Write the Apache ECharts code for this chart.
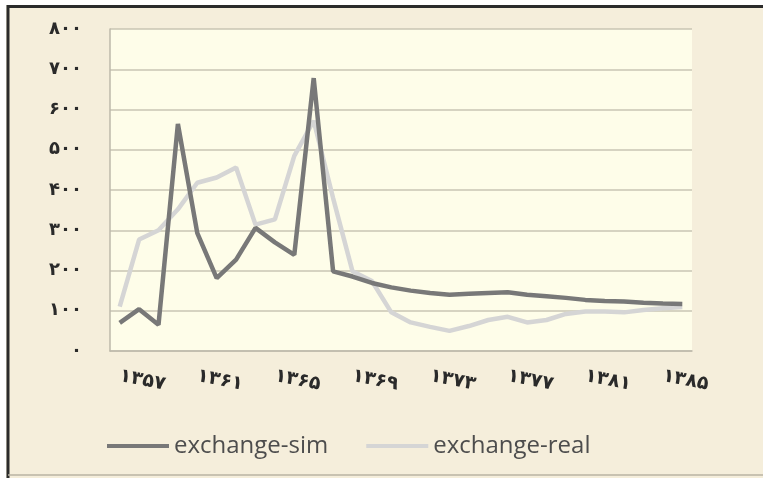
<!DOCTYPE html>
<html>
<head>
<meta charset="utf-8">
<script src="https://cdn.jsdelivr.net/npm/echarts@6/dist/echarts.min.js"></script>
<style>
html,body{margin:0;padding:0;background:#ffffff;}
#c{width:763px;height:478px;}
</style>
</head>
<body>
<div id="c"></div>
<script>
var years = [1357,1358,1359,1360,1361,1362,1363,1364,1365,1366,1367,1368,1369,1370,1371,1372,1373,1374,1375,1376,1377,1378,1379,1380,1381,1382,1383,1384,1385,1386];
var exchangeSim = [70,104,65,564,293,181,227,306,270,239,678,198,185,169,158,150,144,140,142,144,146,140,136,132,127,124,123,120,118,117];
var exchangeReal = [110,277,300,352,418,431,456,314,327,485,572,380,198,174,96,71,60,50,62,77,85,71,77,92,98,98,96,102,106,109];
var yTicks = {min:0, max:800, interval:100};

var pDigits = ['۰','۱','۲','۳','۴','۵','۶','۷','۸','۹'];
function toFa(v){ return String(v).replace(/[0-9]/g, function(d){ return pDigits[+d]; }); }

var chart = echarts.init(document.getElementById('c'), null, {renderer:'canvas'});
chart.setOption({
  backgroundColor: '#f5eedb',
  animation: false,
  graphic: [
    {type:'rect', z:-10, silent:true, shape:{x:0,y:0,width:763,height:5}, style:{fill:'#ffffff'}},
    {type:'rect', z:-10, silent:true, shape:{x:0,y:0,width:6,height:478}, style:{fill:'#ffffff'}},
    {type:'polyline', z:-5, silent:true, shape:{points:[[8,478],[8,6.5],[763,6.5]]}, style:{stroke:'#2b2b2b', lineWidth:3, fill:null}},
    {type:'line', z:-5, silent:true, shape:{x1:8,y1:475,x2:763,y2:475}, style:{stroke:'#b9b3a3', lineWidth:1.5}}
  ],
  grid: {left:110, right:71, top:29, bottom:127, show:true, backgroundColor:'#fefde9', borderWidth:0},
  legend: {
    bottom: 15, left: 102,
    itemWidth: 62, itemHeight: 4, itemGap: 38,
    icon: 'rect',
    textStyle: {fontFamily:'Open Sans', fontSize:24, color:'#4d4d4d'},
    data: ['exchange-sim','exchange-real']
  },
  xAxis: {
    type:'category',
    data: years,
    boundaryGap: true,
    axisLine: {lineStyle:{color:'#bdb9aa', width:1.5}},
    axisTick: {show:false},
    axisLabel: {
      interval: 3,
      rotate: -11,
      margin: 25,
      fontFamily: 'DejaVu Sans',
      fontWeight: 'bold',
      fontSize: 19,
      color: '#2a2a2a',
      formatter: function(v){ return toFa(v); }
    },
    splitLine: {show:false}
  },
  yAxis: {
    type:'value',
    min: yTicks.min, max: yTicks.max, interval: yTicks.interval,
    axisLine: {show:true, lineStyle:{color:'#bdb9aa', width:1.5}},
    axisTick: {show:false},
    axisLabel: {
      margin: 28,
      fontFamily: 'DejaVu Sans',
      fontWeight: 'bold',
      fontSize: 18,
      color: '#2a2a2a',
      formatter: function(v){ return toFa(v); }
    },
    splitLine: {lineStyle:{color:'#c9c5b3', width:1.5}}
  },
  series: [
    {name:'exchange-sim', type:'line', data: exchangeSim, symbol:'none', z:3,
     lineStyle:{color:'#787878', width:4.5}, itemStyle:{color:'#787878'}},
    {name:'exchange-real', type:'line', data: exchangeReal, symbol:'none', z:2,
     lineStyle:{color:'#d5d5d5', width:4.5}, itemStyle:{color:'#d5d5d5'}}
  ]
});
</script>
</body>
</html>
